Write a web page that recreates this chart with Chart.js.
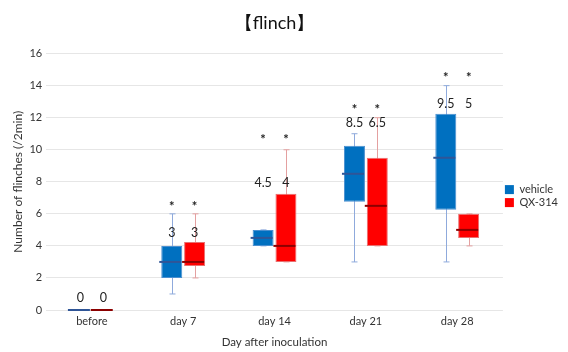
<!DOCTYPE html>
<html>
<head>
<meta charset="utf-8">
<script src="https://cdn.jsdelivr.net/npm/chart.js@4"></script>
<style>
  body { margin: 0; background: #fff; }
</style>
</head>
<body>
<canvas id="myChart" width="568" height="352"></canvas>
<script>
const categories = ["before", "day 7", "day 14", "day 21", "day 28"];

// box plot values
const vehicleMin    = [0, 1, 4, 3, 3];
const vehicleQ1     = [0, 2, 4, 6.75, 6.25];
const vehicleMedian = [0, 3, 4.5, 8.5, 9.5];
const vehicleQ3     = [0, 4, 5, 10.25, 12.25];
const vehicleMax    = [0, 6, 5, 11, 14];

const qxMin    = [0, 2, 3, 4, 4];
const qxQ1     = [0, 2.75, 3, 4, 4.5];
const qxMedian = [0, 3, 4, 6.5, 5];
const qxQ3     = [0, 4.25, 7.25, 9.5, 6];
const qxMax    = [0, 6, 10, 12, 6];

// text annotations (value labels + significance stars), y in data units
const vehicleLabels = ["0", "3", "4.5", "8.5", "9.5"];
const qxLabels = ["0", "3", "4", "6.5", "5"];
const labelY = [0.75, 4.8, 7.9, 11.65, 12.85];
const starY = [null, 6.65, 10.8, 12.65, 14.7];

const boxes = [
  { min: vehicleMin, med: vehicleMedian, max: vehicleMax, whisker: "#8FAADC", median: "#2F5597", labels: vehicleLabels },
  { min: qxMin, med: qxMedian, max: qxMax, whisker: "#E4A0A0", median: "#8B0000", labels: qxLabels }
];

const fontFam = "Lato, 'Liberation Sans', sans-serif";

const boxPlugin = {
  id: "boxParts",
  beforeDatasetsDraw(chart) {
    const ctx = chart.ctx;
    const y = chart.scales.y;
    ctx.save();
    ctx.lineWidth = 1;
    boxes.forEach((b, i) => {
      const meta = chart.getDatasetMeta(i);
      ctx.strokeStyle = b.whisker;
      meta.data.forEach((bar, j) => {
        if (b.min[j] === b.max[j]) return;
        const x = Math.round(bar.x) + 0.5;
        const y1 = y.getPixelForValue(b.min[j]);
        const y2 = y.getPixelForValue(b.max[j]);
        ctx.beginPath();
        ctx.moveTo(x, y1);
        ctx.lineTo(x, y2);
        ctx.moveTo(x - 3, y1);
        ctx.lineTo(x + 3, y1);
        ctx.moveTo(x - 3, y2);
        ctx.lineTo(x + 3, y2);
        ctx.stroke();
      });
    });
    ctx.restore();
  },
  afterDatasetsDraw(chart) {
    const ctx = chart.ctx;
    const y = chart.scales.y;
    ctx.save();
    boxes.forEach((b, i) => {
      const meta = chart.getDatasetMeta(i);
      meta.data.forEach((bar, j) => {
        const yy = y.getPixelForValue(b.med[j]);
        ctx.strokeStyle = b.median;
        ctx.lineWidth = 2;
        ctx.beginPath();
        ctx.moveTo(bar.x - bar.width / 2 - 2, yy);
        ctx.lineTo(bar.x + bar.width / 2 - 1, yy);
        ctx.stroke();

        ctx.fillStyle = "#222";
        ctx.textAlign = "center";
        ctx.textBaseline = "middle";
        ctx.font = "12.5px " + fontFam;
        ctx.fillText(b.labels[j], bar.x, y.getPixelForValue(labelY[j]));
        if (starY[j] !== null) {
          ctx.font = "bold 13px " + fontFam;
          ctx.fillText("*", bar.x, y.getPixelForValue(starY[j]) + 3);
        }
      });
    });
    ctx.restore();
  }
};

new Chart("myChart", {
  type: "bar",
  data: {
    labels: categories,
    datasets: [{
      label: "vehicle",
      data: vehicleQ1.map((v, i) => [v, vehicleQ3[i]]),
      backgroundColor: "#0070C0",
      borderColor: "#4A8FD0",
      borderWidth: [0, 1, 1, 1, 1],
      borderSkipped: false
    }, {
      label: "QX-314",
      data: qxQ1.map((v, i) => [v, qxQ3[i]]),
      backgroundColor: "#FF0000",
      borderColor: "#E87070",
      borderWidth: [0, 1, 1, 1, 1],
      borderSkipped: false
    }]
  },
  options: {
    responsive: false,
    animation: false,
    layout: { padding: { top: 4, left: 11, right: 0, bottom: 3 } },
    categoryPercentage: 0.5,
    barPercentage: 0.92,
    scales: {
      x: {
        grid: { display: false, drawTicks: false },
        border: { display: false },
        ticks: { padding: 4.5, color: "#333", font: { family: fontFam, size: 11 } },
        title: { display: true, text: "Day after inoculation", color: "#333", font: { family: fontFam, size: 11.5 }, padding: { top: 3, bottom: 0 } }
      },
      y: {
        min: 0,
        max: 16,
        ticks: { stepSize: 2, padding: 4, color: "#333", font: { family: fontFam, size: 11 } },
        grid: { color: "#E6E6E6", drawTicks: false },
        border: { display: false },
        title: { display: true, text: "Number of flinches (/2min)", color: "#333", font: { family: fontFam, size: 12 }, padding: 0 }
      }
    },
    plugins: {
      title: {
        display: true,
        text: "【flinch】",
        fullSize: false,
        color: "#111",
        font: { family: fontFam, size: 18, weight: "normal" },
        padding: { top: 8, bottom: 20 }
      },
      legend: {
        position: "right",
        title: { display: true, text: " ", font: { size: 1 }, padding: { top: 38, bottom: 0 } },
        labels: { boxWidth: 9, boxHeight: 9, color: "#333", font: { family: fontFam, size: 11 }, padding: 2 }
      },
      tooltip: { enabled: false }
    }
  },
  plugins: [boxPlugin]
});
</script>
</body>
</html>
